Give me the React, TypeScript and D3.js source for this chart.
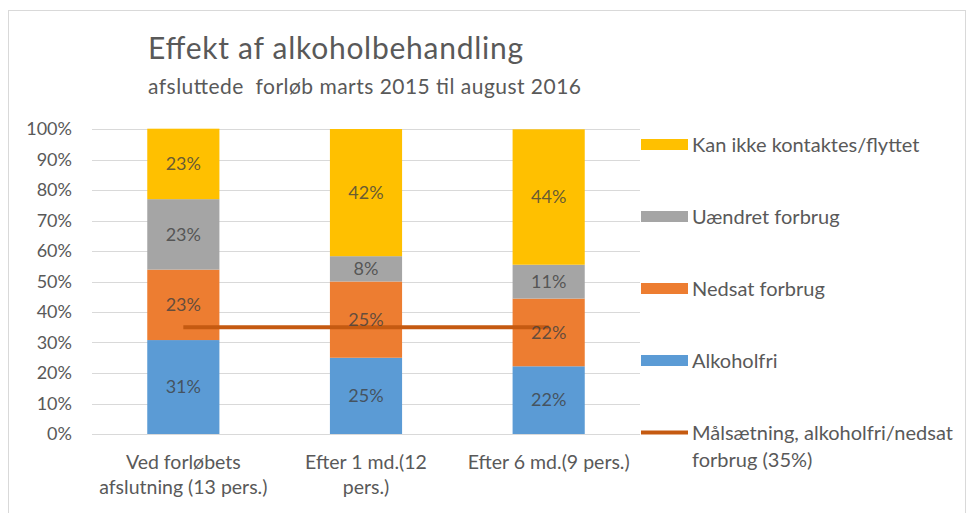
import * as d3 from 'd3';

const categories = [
    ['Ved forløbets', 'afslutning (13 pers.)'],
    ['Efter 1 md.(12', 'pers.)'],
    ['Efter 6 md.(9 pers.)'],
];

// stacked series, bottom to top (percent)
const alkoholfri = [30.8, 25, 22.2];
const nedsat = [23.1, 25, 22.2];
const uaendret = [23.1, 8.3, 11.1];
const kanIkke = [23.1, 41.7, 44.4];
const maalsaetning = [35, 35, 35];

const yTicks = [0, 10, 20, 30, 40, 50, 60, 70, 80, 90, 100];

const seriesNames = ['Alkoholfri', 'Nedsat forbrug', 'Uændret forbrug', 'Kan ikke kontaktes/flyttet'];
const seriesColors = ['#5B9BD5', '#ED7D31', '#A5A5A5', '#FFC000'];
const lineName = ['Målsætning, alkoholfri/nedsat', 'forbrug (35%)'];
const lineColor = '#C55A11';

const W = 969;
const H = 513;
const FONT = 'Lato, "Open Sans", sans-serif';
const TEXT = '#595959';

export default function App() {
    const keys = categories.map((_, i) => String(i));
    const x = d3.scaleBand()
        .domain(keys)
        .range([92, 640])
        .paddingInner(0.605)
        .paddingOuter(0.3025);
    const y = d3.scaleLinear().domain([0, 100]).range([434, 129]);

    const rows = keys.map((k, i) => ({
        key: k,
        s0: alkoholfri[i],
        s1: nedsat[i],
        s2: uaendret[i],
        s3: kanIkke[i],
    }));
    const stack = d3.stack<any>().keys(['s0', 's1', 's2', 's3']);
    const layers = stack(rows);

    const line = d3.line<number>()
        .x((_, i) => x(keys[i])! + x.bandwidth() / 2)
        .y(d => y(d));

    const legendY = d3.scalePoint<number>()
        .domain([0, 1, 2, 3, 4])
        .range([144.5, 432.5]);
    const legendOrder = [3, 2, 1, 0];

    return (
        <svg
            width={W}
            height={H}
            style={{ position: 'absolute', left: 0, top: 0, background: '#fff' }}
            fontFamily={FONT}
        >
            <rect x={8.5} y={10.5} width={957} height={520} fill="#fff" stroke="#D9D9D9" strokeWidth={1} />

            <text x={148} y={59} fontSize={30} fill={TEXT} textLength={375} lengthAdjust="spacing">Effekt af alkoholbehandling</text>
            <text x={148} y={94} fontSize={21} fill={TEXT} style={{ whiteSpace: 'pre' }} textLength={433} lengthAdjust="spacing">afsluttede  forløb marts 2015 til august 2016</text>

            {/* gridlines + y labels */}
            {yTicks.map(t => (
                <g key={t}>
                    <line x1={92} x2={640} y1={Math.round(y(t)) + 0.5} y2={Math.round(y(t)) + 0.5} stroke="#D9D9D9" strokeWidth={1} />
                    <text x={72} y={y(t)} dy="0.35em" textAnchor="end" fontSize={18} fill={TEXT}>{t}%</text>
                </g>
            ))}

            {/* stacked bars */}
            {layers.map((layer, li) => (
                <g key={li} fill={seriesColors[li]}>
                    {layer.map((d, i) => (
                        <rect
                            key={i}
                            x={x(keys[i])}
                            width={x.bandwidth()}
                            y={y(d[1])}
                            height={y(d[0]) - y(d[1])}
                        />
                    ))}
                </g>
            ))}

            {/* target line */}
            <path d={line(maalsaetning)!} stroke={lineColor} strokeWidth={4} fill="none" />

            {/* data labels */}
            {layers.map((layer, li) => (
                <g key={'l' + li}>
                    {layer.map((d, i) => (
                        <text
                            key={i}
                            x={x(keys[i])! + x.bandwidth() / 2}
                            y={y((d[0] + d[1]) / 2)}
                            dy="0.35em"
                            textAnchor="middle"
                            fontSize={18}
                            fill="#404040"
                            fillOpacity={0.8}
                        >
                            {Math.round(d[1] - d[0])}%
                        </text>
                    ))}
                </g>
            ))}

            {/* category labels */}
            {categories.map((lines, i) => (
                <text
                    key={i}
                    x={x(keys[i])! + x.bandwidth() / 2}
                    y={469}
                    textAnchor="middle"
                    fontSize={19.5}
                    fill={TEXT}
                >
                    {lines.map((l, j) => (
                        <tspan key={j} x={x(keys[i])! + x.bandwidth() / 2} dy={j === 0 ? 0 : 25}>{l}</tspan>
                    ))}
                </text>
            ))}

            {/* legend */}
            {legendOrder.map((si, k) => (
                <g key={si} transform={`translate(641,${legendY(k)})`}>
                    <rect x={0} y={-5.5} width={47} height={11} fill={seriesColors[si]} />
                    <text x={51} y={0} dy="0.35em" fontSize={20} fill={TEXT}>{seriesNames[si]}</text>
                </g>
            ))}
            <g transform={`translate(641,${legendY(4)})`}>
                <line x1={0} x2={47} y1={0} y2={0} stroke={lineColor} strokeWidth={4} />
                <text x={51} y={0} fontSize={20} fill={TEXT}>
                    {lineName.map((l, j) => (
                        <tspan key={j} x={51} dy={j === 0 ? '0.35em' : 27}>{l}</tspan>
                    ))}
                </text>
            </g>
        </svg>
    );
}
